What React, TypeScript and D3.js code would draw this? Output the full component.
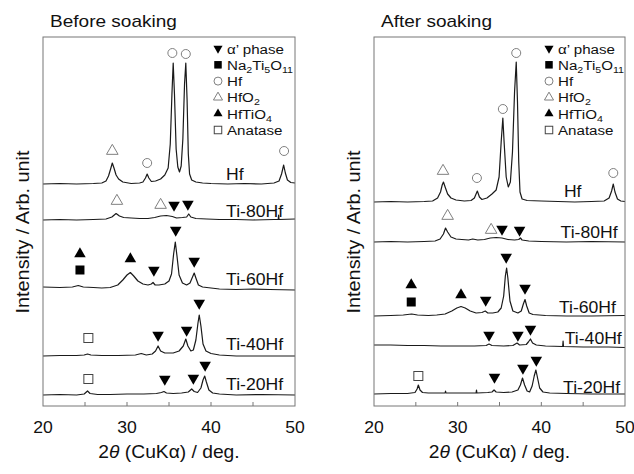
import React from 'react';
import * as d3 from 'd3';

type Pt = [number, number];
type Sym = 'down' | 'up' | 'square' | 'circle' | 'triOpen' | 'squareOpen';
type Mark = [Sym, number, number];

// x axis: 2θ in degrees
const tickLabels = [20, 30, 40, 50];
const tickMarks = [25, 30, 35, 40, 45];
const sampleNames = ['Hf', 'Ti-80Hf', 'Ti-60Hf', 'Ti-40Hf', 'Ti-20Hf'];

// vertical offsets of the stacked patterns (arb. units)
const beforeOffsets = [222, 186, 117, 50, 11];
const afterOffsets = [204, 164, 90, 60, 12];

// ---- before soaking: [2θ, intensity above own baseline]
const beforeHf: Pt[] = [[20,0],[22,0.5],[24,0],[26,0.5],[27,1],[27.5,3],[27.8,8],[28.05,15],[28.25,21],[28.45,16],[28.7,9],[29,5],[29.5,2],[30.5,0.5],[31.5,1],[31.9,2],[32.2,6],[32.4,10],[32.6,6],[32.9,2.5],[33.4,3],[34,5],[34.5,9],[34.9,16],[35.15,40],[35.35,90],[35.5,121],[35.65,90],[35.85,35],[36.05,17],[36.25,12],[36.45,18],[36.65,45],[36.85,100],[37,121],[37.15,85],[37.3,30],[37.45,10],[37.7,4],[38.2,2],[39,1],[40,0.5],[42,0],[44,0.5],[46,0],[47.5,1],[48.1,3],[48.4,10],[48.65,19],[48.85,11],[49.1,4],[49.5,1.5],[50,1]];
const before80: Pt[] = [[20,0],[22,0.5],[24,0],[26,0.5],[27.5,1],[28.2,3],[28.7,6.5],[29.1,4],[29.6,2.5],[30.5,2],[31.5,1.5],[32.5,1.5],[33.3,2.5],[34,4],[34.7,4.5],[35.4,3.5],[35.9,2],[36.6,2.5],[37.1,3],[37.35,6],[37.6,3],[38.2,1.5],[39.5,1],[41,0.5],[43,0.5],[45,0],[47.5,0.5],[48,0.5],[48.05,5],[48.1,0.5],[50,1]];
const before60: Pt[] = [[20,2],[22,1.5],[23.5,2],[24.2,3.5],[24.8,2],[26,1.5],[27,1],[28,1.5],[28.9,4],[29.5,9],[30,14],[30.4,16.5],[30.8,13],[31.3,8],[31.9,5],[32.5,4],[32.9,5],[33.1,6.5],[33.35,4],[33.8,4],[34.5,5],[35,8],[35.3,15],[35.55,35],[35.75,47],[35.95,33],[36.2,14],[36.6,6],[37.1,4],[37.5,6],[37.8,12],[38,16],[38.2,11],[38.5,4],[39,2],[40,1],[41,0],[43,-0.5],[45,0],[47,-0.5],[50,-1]];
const before40: Pt[] = [[20,0],[22,0.5],[24,0.5],[24.9,1],[25.3,2],[25.7,1],[27,0.5],[29,0.5],[31,1],[31.7,2.5],[32.3,1],[33,2],[33.4,5],[33.7,10],[34,5],[34.5,3],[35.5,3],[36.2,5],[36.7,10],[37,17],[37.25,10],[37.6,5],[37.9,6],[38.2,16],[38.45,33],[38.6,41],[38.8,30],[39.05,12],[39.4,5],[40,2.5],[41,1],[43,0],[46,0],[50,0]];
const before20: Pt[] = [[20,0],[22,0.5],[24,0],[24.9,1],[25.3,4],[25.6,1.5],[26.5,0.5],[28,0.5],[30,1],[32,1],[33.5,1.5],[34.1,2.5],[34.4,3.5],[34.7,2],[35.5,1.5],[36.5,2],[37.3,3],[37.7,6],[38,3.5],[38.4,2.5],[38.8,7],[39.05,15],[39.25,19],[39.45,13],[39.75,5],[40.2,2],[41,1],[43,0],[46,0.5],[50,0]];

// ---- after soaking
const afterHf: Pt[] = [[20,0],[22,0.5],[24,0],[26,0.5],[27,1],[27.6,4],[27.95,10],[28.15,17],[28.3,20],[28.5,15],[28.8,8],[29.2,4],[29.8,2],[30.8,1],[31.6,1.5],[32,4],[32.35,11],[32.6,5],[32.9,2.5],[33.5,4],[34.1,8],[34.6,12],[34.95,25],[35.2,60],[35.4,84],[35.55,60],[35.8,25],[36.05,15],[36.3,20],[36.55,50],[36.8,110],[37,140],[37.15,100],[37.3,40],[37.45,10],[37.7,3],[38.3,1.5],[40,1],[42,0.5],[44,0],[46,0.5],[47.5,1],[48.1,4],[48.4,11],[48.6,18],[48.8,10],[49.1,3],[49.5,1],[50,0.5]];
const after80: Pt[] = [[20,0],[22,0.5],[24,0],[26,0.5],[27.3,1],[27.9,3],[28.3,8],[28.55,14],[28.8,10],[29.2,5],[29.8,3],[30.5,2.5],[31.3,2],[31.8,3],[32.4,2],[33.2,2.5],[33.9,4],[34.6,4.5],[35.3,4],[36,2.5],[36.8,2],[37.3,2.5],[37.5,4],[37.7,2],[38.5,1],[40,0.5],[43,0],[46,0.5],[50,0]];
const after60: Pt[] = [[20,0],[22,0.5],[23.5,1],[24.5,2],[25.2,1],[26.5,0.5],[27.5,1],[28.5,2],[29.3,5],[29.9,8],[30.4,9.5],[30.9,8],[31.5,5],[32.2,3],[32.9,3.5],[33.3,5],[33.6,3],[34.2,3],[34.8,4],[35.2,8],[35.5,20],[35.7,40],[35.85,48],[36,38],[36.25,15],[36.6,5],[37.2,3],[37.6,5],[37.85,12],[38.05,16.5],[38.25,10],[38.55,3],[39,1.5],[40.5,0.5],[43,0],[46,0],[50,0.5]];
const after40: Pt[] = [[20,1],[22,1],[24,0.5],[26,0.5],[28,0],[30,0],[32,0],[33.4,0.5],[33.75,2],[34.1,0.5],[35.5,0],[36.6,0.5],[37.1,3],[37.4,1],[38.2,1.5],[38.45,4],[38.7,7],[38.95,3],[39.4,1],[40.5,0],[42.55,-0.5],[42.6,5],[42.65,-0.5],[45,-1],[48,-1],[50,-1.5]];
const after20: Pt[] = [[20,0],[22,0.5],[24,0.5],[24.9,1.5],[25.15,5],[25.3,9],[25.5,4],[25.8,1.5],[26.5,1],[28,1],[28.5,1],[28.55,3],[28.6,1],[30,1],[32.2,1],[32.25,4],[32.3,1],[33.6,1.5],[34.1,2],[34.35,4],[34.6,2],[35.5,1.5],[36.5,2],[37.2,4],[37.5,9],[37.75,16],[38,9],[38.3,3],[38.6,2],[38.9,8],[39.15,18],[39.35,24],[39.55,16],[39.8,6],[40.2,2],[41,1],[43,0.5],[46,0],[50,0]];

// phase markers: [symbol, 2θ, level]
const beforeMarks: Mark[] = [
  ['circle',35.4,353],['circle',37.0,352],['circle',32.4,243],['circle',48.7,255],['triOpen',28.25,255],
  ['triOpen',28.8,205],['triOpen',34.0,201],['down',35.6,201],['down',37.25,202],
  ['up',24.4,152],['square',24.4,136],['up',30.4,147],['down',33.2,136],['down',35.8,176],['down',38.0,145],
  ['squareOpen',25.4,68],['down',33.7,71],['down',37.1,76],['down',38.6,103],
  ['squareOpen',25.4,27],['down',34.5,27],['down',37.9,28],['down',39.3,41],
];
const afterMarks: Mark[] = [
  ['triOpen',28.25,235],['circle',32.3,228],['circle',35.4,297],['circle',37.0,353],['circle',48.6,233],
  ['triOpen',28.8,190],['triOpen',34.0,176],['down',35.3,177],['down',37.4,176],
  ['up',24.45,121],['square',24.45,104],['up',30.4,111],['down',33.35,106],['down',35.8,149],['down',38.05,118],
  ['down',33.75,71],['down',37.2,71],['down',38.7,77],
  ['squareOpen',25.3,30],['down',34.4,29],['down',37.8,38],['down',39.4,46],
];

// sample label anchors: [2θ, level]
const beforeLabelPos: Pt[] = [[41.8,226],[41.8,189],[41.8,121],[41.8,56],[41.8,16]];
const afterLabelPos: Pt[] = [[42.7,209],[42.3,168],[42.1,93],[42.8,62],[42.6,13]];

const legendSyms: Sym[] = ['down', 'square', 'circle', 'triOpen', 'up', 'squareOpen'];
const legendText: [string, string][][] = [
  [['α’ phase', '']],
  [['Na', ''], ['2', 's'], ['Ti', ''], ['5', 's'], ['O', ''], ['11', 's']],
  [['Hf', '']],
  [['HfO', ''], ['2', 's']],
  [['HfTiO', ''], ['4', 's']],
  [['Anatase', '']],
];

const FONT = '"Liberation Sans", Arial, Helvetica, sans-serif';
const SX = 1.12;

function Marker({ s, cx, cy, big }: { s: Sym; cx: number; cy: number; big: boolean }) {
  const k = big ? 1 : 0.62;
  const tri = d3.symbol().type(d3.symbolTriangle).size(58 * k)();
  if (s === 'down')
    return <path d={tri!} transform={`translate(${cx},${cy}) rotate(180)`} fill="#000" />;
  if (s === 'up')
    return <path d={tri!} transform={`translate(${cx},${cy})`} fill="#000" />;
  if (s === 'triOpen')
    return <path d={tri!} transform={`translate(${cx},${cy})`} fill="none" stroke="#808080" strokeWidth={1} />;
  if (s === 'circle') {
    const r = big ? 4.5 : 4;
    return <circle cx={cx} cy={cy} r={r} fill="none" stroke="#808080" strokeWidth={1} />;
  }
  const a = big ? 9 : 7.5;
  if (s === 'square')
    return <rect x={cx - a / 2} y={cy - a / 2} width={a} height={a} fill="#000" />;
  return <rect x={cx - a / 2} y={cy - a / 2} width={a} height={a} fill="none" stroke="#444" strokeWidth={1} />;
}

function Panel({ left, right, title, traces, offsets, marks, labelPos }: {
  left: number; right: number; title: string; traces: Pt[][]; offsets: number[]; marks: Mark[]; labelPos: Pt[];
}) {
  const top = 37, bottom = 406;
  const x = d3.scaleLinear().domain([20, 50]).range([left, right]);
  const y = d3.scaleLinear().domain([0, bottom - top]).range([bottom, top]);
  const cx = (left + right) / 2;

  return (
    <g fontFamily={FONT} fill="#111">
      <text transform={`translate(${left + 7},27) scale(${SX},1)`} fontSize={17}>{title}</text>
      <text transform={`translate(${left - 14},232) rotate(-90) scale(1.1,1)`} fontSize={18} textAnchor="middle">
        Intensity / Arb. unit
      </text>

      {traces.map((t, i) => {
        const line = d3.line<Pt>().x(d => x(d[0])).y(d => y(d[1] + offsets[i]));
        return <path key={i} d={line(t)!} fill="none" stroke="#1a1a1a" strokeWidth={1.2} strokeLinejoin="round" />;
      })}

      {sampleNames.map((n, i) => (
        <text key={n} transform={`translate(${x(labelPos[i][0])},${y(labelPos[i][1])}) scale(1.1,1)`} fontSize={16}>{n}</text>
      ))}

      {marks.map((m, i) => <Marker key={i} s={m[0]} cx={x(m[1])} cy={y(m[2])} big={true} />)}

      {legendSyms.map((s, i) => {
        const ly = 48.5 + i * 16.3;
        return (
          <g key={i}>
            <Marker s={s} cx={left + 175} cy={ly} big={false} />
            <text transform={`translate(${left + 184},${ly + 5}) scale(${SX},1)`} fontSize={13.5}>
              {legendText[i].map(([t, k], j) => k === 's'
                ? <tspan key={j} fontSize={9.5} dy={3}>{t}</tspan>
                : <tspan key={j} dy={j > 0 && legendText[i][j - 1][1] === 's' ? -3 : 0}>{t}</tspan>)}
            </text>
          </g>
        );
      })}

      <rect x={left} y={top} width={right - left} height={bottom - top} fill="none" stroke="#777" strokeWidth={1} />
      {tickMarks.map(v => (
        <line key={v} x1={x(v)} x2={x(v)} y1={bottom} y2={bottom - 4} stroke="#777" strokeWidth={1} />
      ))}
      {tickLabels.map(v => (
        <text key={v} transform={`translate(${x(v)},433) scale(1.1,1)`} fontSize={16} textAnchor="middle">{v}</text>
      ))}
      <text transform={`translate(${cx},458) scale(1.1,1)`} fontSize={17.5} textAnchor="middle">
        2<tspan fontStyle="italic">θ</tspan> (CuKα) / deg.
      </text>
    </g>
  );
}

export default function App() {
  return (
    <svg width={634} height={474} style={{ position: 'absolute', left: 0, top: 0, background: '#fff' }}>
      <Panel left={43} right={295} title="Before soaking"
        traces={[beforeHf, before80, before60, before40, before20]}
        offsets={beforeOffsets} marks={beforeMarks} labelPos={beforeLabelPos} />
      <Panel left={374} right={625} title="After soaking"
        traces={[afterHf, after80, after60, after40, after20]}
        offsets={afterOffsets} marks={afterMarks} labelPos={afterLabelPos} />
    </svg>
  );
}
